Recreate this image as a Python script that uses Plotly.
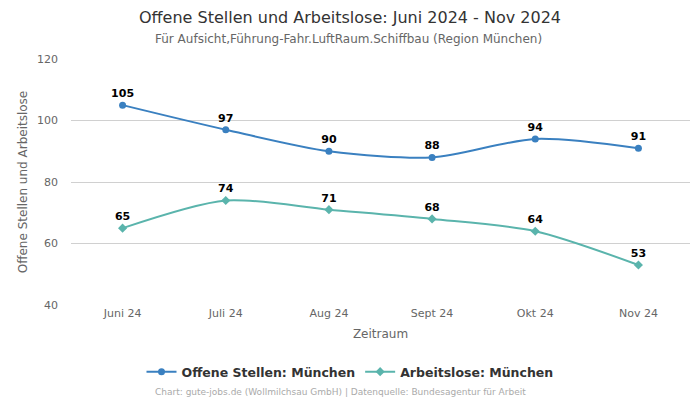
import plotly.graph_objects as go

categories = ["Juni 24", "Juli 24", "Aug 24", "Sept 24", "Okt 24", "Nov 24"]
offene = [105, 97, 90, 88, 94, 91]
arbeitslose = [65, 74, 71, 68, 64, 53]
yticks = [40, 60, 80, 100, 120]

font = "DejaVu Sans"
fig = go.Figure()
fig.add_trace(go.Scatter(
    x=categories, y=offene, name="Offene Stellen: München",
    mode="lines+markers+text", text=[str(v) for v in offene], textposition="top center",
    textfont=dict(family=font, size=11, color="#000000", weight="bold"),
    line=dict(color="#3a80c0", width=2, shape="spline", smoothing=0.8),
    marker=dict(symbol="circle", size=7, color="#3a80c0"),
))
fig.add_trace(go.Scatter(
    x=categories, y=arbeitslose, name="Arbeitslose: München",
    mode="lines+markers+text", text=[str(v) for v in arbeitslose], textposition="top center",
    textfont=dict(family=font, size=11, color="#000000", weight="bold"),
    line=dict(color="#5ab4ac", width=2, shape="spline", smoothing=0.8),
    marker=dict(symbol="diamond", size=7, color="#5ab4ac"),
))
H = 246.0
W = 619.0
def py(pix):
    return (305 - pix) / H
def px(pix):
    return (pix - 71) / W

fig.update_layout(
    width=700, height=400,
    margin=dict(l=71, r=10, t=59, b=95, autoexpand=False),
    paper_bgcolor="white", plot_bgcolor="white",
    font=dict(family=font, size=11, color="#666666"),
    xaxis=dict(
        title=dict(text="Zeitraum", font=dict(size=12, color="#666666"), standoff=10),
        range=[-0.5, 5.5], showgrid=False, showline=False, ticks="",
        tickfont=dict(size=11, color="#666666"), automargin=False,
    ),
    yaxis=dict(
        title=dict(text="Offene Stellen und Arbeitslose", font=dict(size=12, color="#666666"), standoff=6),
        range=[40, 120], tickvals=yticks, gridcolor="#d0d0d0", gridwidth=1,
        zeroline=False, showline=False, tickfont=dict(size=11, color="#666666"),
        ticklabelstandoff=12, automargin=False,
    ),
    legend=dict(
        orientation="h", x=px(350), xanchor="center", y=py(372), yanchor="middle",
        font=dict(family=font, size=12.5, color="#333333", weight="bold"),
    ),
    showlegend=True,
    annotations=[
        dict(text="Offene Stellen und Arbeitslose: Juni 2024 - Nov 2024",
             x=px(350), xref="paper", y=py(17), yref="paper", xanchor="center", yanchor="middle",
             showarrow=False, font=dict(family=font, size=16, color="#333333")),
        dict(text="Für Aufsicht,Führung-Fahr.LuftRaum.Schiffbau (Region München)",
             x=px(348), xref="paper", y=py(39), yref="paper", xanchor="center", yanchor="middle",
             showarrow=False, font=dict(family=font, size=12, color="#666666")),
        dict(text="Chart: gute-jobs.de (Wollmilchsau GmbH) | Datenquelle: Bundesagentur für Arbeit",
             x=px(340), xref="paper", y=py(392), yref="paper", xanchor="center", yanchor="middle",
             showarrow=False, font=dict(family=font, size=9, color="#aaaaaa")),
    ],
)
fig.write_html("out.html", config={"displayModeBar": False},
               post_script="document.body.style.margin='0';")
